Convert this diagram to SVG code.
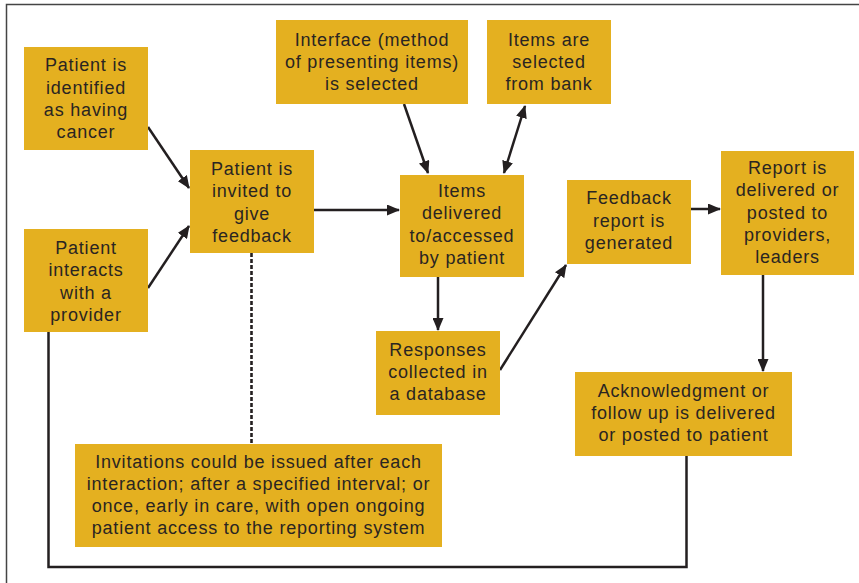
<svg xmlns="http://www.w3.org/2000/svg" width="859" height="583" viewBox="0 0 859 583">
<defs>
<style>
.box{fill:#E4B020;}
.t{font-family:"Liberation Sans",Arial,sans-serif;font-size:18px;letter-spacing:0.8px;fill:#2a2522;text-anchor:middle;}
.c{fill:none;stroke:#231f20;stroke-width:2.5;}
.d{fill:none;stroke:#231f20;stroke-width:2.6;stroke-dasharray:4 2;}
</style>
<marker id="ah" viewBox="0 0 13 11" refX="12" refY="5.5" markerWidth="13" markerHeight="11" markerUnits="userSpaceOnUse" orient="auto-start-reverse">
<path d="M0,0 L13,5.5 L0,11 Z" fill="#231f20"/>
</marker>
</defs>
<rect width="859" height="583" fill="#ffffff"/>
<path d="M6.5,583 V4.5 H859" fill="none" stroke="#444" stroke-width="1.5"/>

<g id="connectors">
<line class="c" x1="148" y1="127" x2="189" y2="188" marker-end="url(#ah)"/>
<line class="c" x1="148" y1="288" x2="189" y2="226" marker-end="url(#ah)"/>
<line class="c" x1="314" y1="210" x2="399" y2="210" marker-end="url(#ah)"/>
<line class="c" x1="404" y1="104" x2="428" y2="173" marker-end="url(#ah)"/>
<line class="c" x1="504" y1="173" x2="525" y2="106" marker-start="url(#ah)" marker-end="url(#ah)"/>
<line class="c" x1="438" y1="277" x2="438" y2="330" marker-end="url(#ah)"/>
<line class="c" x1="500" y1="370" x2="566" y2="265" marker-end="url(#ah)"/>
<line class="c" x1="691" y1="209" x2="720" y2="209" marker-end="url(#ah)"/>
<line class="c" x1="763" y1="275" x2="763" y2="371" marker-end="url(#ah)"/>
<line class="d" x1="251.5" y1="253" x2="251.5" y2="444"/>
<path class="c" d="M48.5,332 V567 H686.5 V456"/>
</g>

<g id="n1"><rect class="box" x="24" y="47" width="124" height="103"/>
<text class="t"><tspan x="86" y="71">Patient is</tspan><tspan x="86" y="93.5">identified</tspan><tspan x="86" y="116">as having</tspan><tspan x="86" y="138">cancer</tspan></text></g>

<g id="n2"><rect class="box" x="190" y="150" width="124" height="103"/>
<text class="t"><tspan x="252" y="175">Patient is</tspan><tspan x="252" y="197">invited to</tspan><tspan x="252" y="219.5">give</tspan><tspan x="252" y="242">feedback</tspan></text></g>

<g id="n3"><rect class="box" x="24" y="229" width="124" height="103"/>
<text class="t"><tspan x="86" y="253.5">Patient</tspan><tspan x="86" y="276">interacts</tspan><tspan x="86" y="298.5">with a</tspan><tspan x="86" y="321">provider</tspan></text></g>

<g id="n4"><rect class="box" x="276" y="20" width="192" height="84"/>
<text class="t"><tspan x="372" y="45.5">Interface (method</tspan><tspan x="372" y="67.5">of presenting items)</tspan><tspan x="372" y="90">is selected</tspan></text></g>

<g id="n5"><rect class="box" x="487" y="20" width="124" height="84"/>
<text class="t"><tspan x="549" y="45.5">Items are</tspan><tspan x="549" y="67.5">selected</tspan><tspan x="549" y="90">from bank</tspan></text></g>

<g id="n6"><rect class="box" x="400" y="175" width="124" height="102"/>
<text class="t"><tspan x="462" y="197">Items</tspan><tspan x="462" y="219">delivered</tspan><tspan x="462" y="241.5">to/accessed</tspan><tspan x="462" y="264">by patient</tspan></text></g>

<g id="n7"><rect class="box" x="567" y="180" width="124" height="84"/>
<text class="t"><tspan x="629" y="204">Feedback</tspan><tspan x="629" y="226.5">report is</tspan><tspan x="629" y="249">generated</tspan></text></g>

<g id="n8"><rect class="box" x="721" y="151" width="133" height="124"/>
<text class="t"><tspan x="787.5" y="174">Report is</tspan><tspan x="787.5" y="196">delivered or</tspan><tspan x="787.5" y="218.5">posted to</tspan><tspan x="787.5" y="241">providers,</tspan><tspan x="787.5" y="263">leaders</tspan></text></g>

<g id="n9"><rect class="box" x="376" y="331" width="124" height="84"/>
<text class="t"><tspan x="438" y="355.5">Responses</tspan><tspan x="438" y="378">collected in</tspan><tspan x="438" y="400">a database</tspan></text></g>

<g id="n10"><rect class="box" x="575" y="372" width="217" height="84"/>
<text class="t"><tspan x="683.5" y="396.5">Acknowledgment or</tspan><tspan x="683.5" y="419">follow up is delivered</tspan><tspan x="683.5" y="441">or posted to patient</tspan></text></g>

<g id="n11"><rect class="box" x="75" y="444" width="367" height="103"/>
<text class="t"><tspan x="258.5" y="467.5">Invitations could be issued after each</tspan><tspan x="258.5" y="490">interaction; after a specified interval; or</tspan><tspan x="258.5" y="512">once, early in care, with open ongoing</tspan><tspan x="258.5" y="534">patient access to the reporting system</tspan></text></g>
</svg>
